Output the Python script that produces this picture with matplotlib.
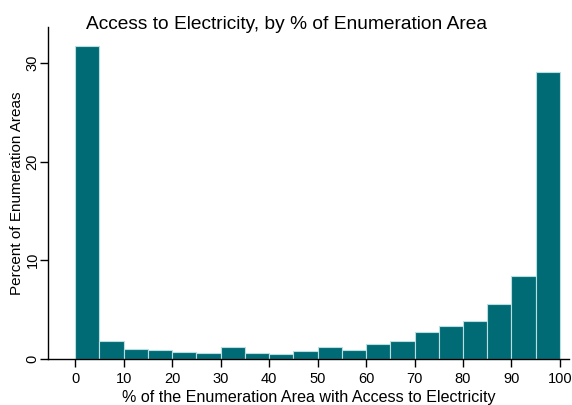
import numpy as np
import matplotlib
matplotlib.use("Agg")
import matplotlib.pyplot as plt

plt.rcParams["font.family"] = ["Liberation Sans", "DejaVu Sans"]

# histogram bins (5-point wide) and percent of enumeration areas per bin
bin_edges = list(range(0, 105, 5))
percent = [31.7, 1.8, 1.0, 0.9, 0.7, 0.55, 1.15, 0.55, 0.45, 0.8,
           1.15, 0.9, 1.55, 1.8, 2.7, 3.3, 3.85, 5.6, 8.4, 29.1]
x_ticks = list(range(0, 101, 10))
y_ticks = [0, 10, 20, 30]

fig = plt.figure(figsize=(5.72, 4.05), dpi=100)
ax = fig.add_axes([0.084, 0.114, 0.911, 0.82])

ax.bar(bin_edges[:-1], percent, width=5, align="edge",
       color="#006b75", edgecolor="#b9dfe3", linewidth=0.8)

ax.set_xlim(-5.6, 101.9)
ax.set_ylim(0, 33.7)
ax.set_xticks(x_ticks)
ax.set_yticks(y_ticks)
ax.set_yticklabels([str(v) for v in y_ticks], rotation=90, va="center")
ax.tick_params(direction="out", length=6, width=1, labelsize=10.5, colors="black")
ax.tick_params(axis="y", pad=0)
for side in ("top", "right"):
    ax.spines[side].set_visible(False)
ax.spines["left"].set_linewidth(1)
ax.spines["bottom"].set_linewidth(1)

ax.set_xlabel("% of the Enumeration Area with Access to Electricity", fontsize=11.6, labelpad=3)
ax.set_ylabel("Percent of Enumeration Areas", fontsize=11, va="center")
ax.yaxis.set_label_coords(-0.06, 0.5)
fig.text(0.5, 0.928, "Access to Electricity, by % of Enumeration Area",
         ha="center", va="baseline", fontsize=13.8)

fig.savefig("out.png", dpi=100, facecolor="white")
